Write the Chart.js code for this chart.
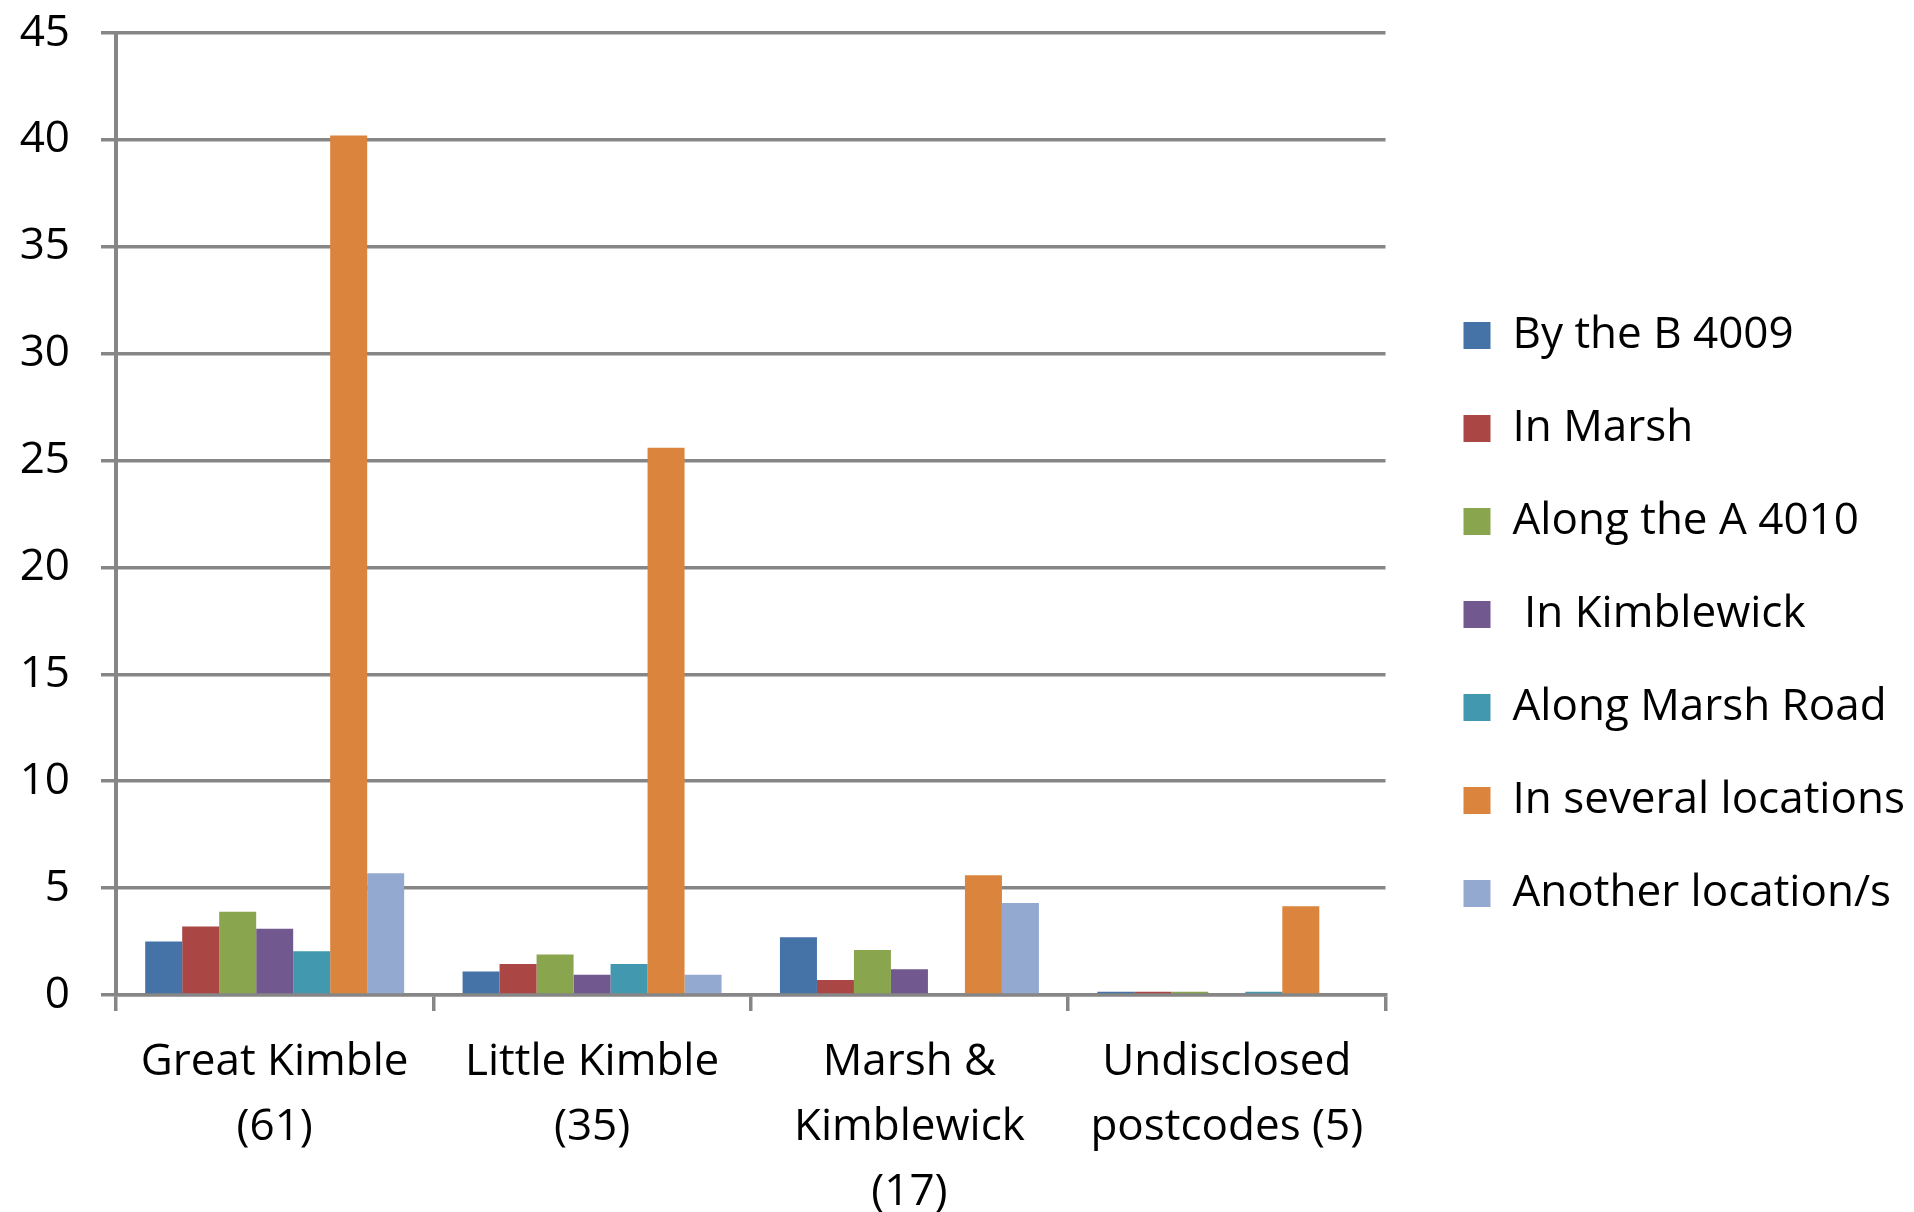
<!DOCTYPE html>
<html>
<head>
<meta charset="utf-8">
<script src="https://cdn.jsdelivr.net/npm/chart.js@4/dist/chart.umd.min.js"></script>
<style>
  html, body { margin: 0; padding: 0; background: #fff; }
  #wrap { width: 1914px; height: 1212px; }
</style>
</head>
<body>
<div id="wrap"><canvas id="chart"></canvas></div>
<script>
// areas, with number of replies in brackets
const categories = [
  ['Great Kimble', '(61)'],
  ['Little Kimble', '(35)'],
  ['Marsh &', 'Kimblewick', '(17)'],
  ['Undisclosed', 'postcodes (5)']
];

const seriesNames = [
  'By the B 4009',
  'In Marsh',
  'Along the A 4010',
  ' In Kimblewick',
  'Along Marsh Road',
  'In several locations',
  'Another location/s'
];

const byB4009      = [2.5, 1.1, 2.7, 0.15];
const inMarsh      = [3.2, 1.45, 0.7, 0.15];
const alongA4010   = [3.9, 1.9, 2.1, 0.15];
const inKimblewick = [3.1, 0.95, 1.2, 0];
const alongMarshRd = [2.05, 1.45, 0, 0.15];
const several      = [40.2, 25.6, 5.6, 4.15];
const another      = [5.7, 0.95, 4.3, 0];

const yTicks = [0, 5, 10, 15, 20, 25, 30, 35, 40, 45];

const colors = ['#4572A7', '#AA4643', '#89A54E', '#71588F', '#4198AF', '#DB843D', '#93A9CF'];
const seriesValues = [byB4009, inMarsh, alongA4010, inKimblewick, alongMarshRd, several, another];

const gridGrey = '#868686';
const EXTRA = 50;   // room between plot and legend
const SHIFT = 29;   // how far the legend itself moves right
const LIFT = 16;    // raise the legend a bit

const legendGap = {
  id: 'legendGap',
  beforeLayout(chart) {
    const lg = chart.legend;
    if (lg && !lg._gapPatched) {
      const fit = lg.fit;
      lg.fit = function () { fit.call(this); this.width += EXTRA; };
      lg._gapPatched = true;
    }
  },
  afterLayout(chart) {
    if (chart.legend) {
      chart.legend.left += SHIFT;
      chart.legend.bottom -= LIFT;
    }
  }
};

Chart.defaults.font.family = '"Open Sans", Lato, sans-serif';
Chart.defaults.color = '#000';

new Chart(document.getElementById('chart'), {
  type: 'bar',
  data: {
    labels: categories,
    datasets: seriesNames.map((name, i) => ({
      label: name,
      data: seriesValues[i],
      backgroundColor: colors[i],
      borderColor: colors[i],
      borderWidth: 0,
      categoryPercentage: 0.816,
      barPercentage: 1.0
    }))
  },
  options: {
    responsive: true,
    maintainAspectRatio: false,
    animation: false,
    layout: { padding: { top: 33, left: 0, right: 0, bottom: 0 } },
    plugins: {
      legend: {
        position: 'right',
        align: 'center',
        labels: {
          boxWidth: 27,
          boxHeight: 27,
          padding: 49,
          font: { size: 44 },
          color: '#000'
        }
      },
      tooltip: { enabled: false }
    },
    scales: {
      x: {
        afterFit(scale) { scale.height = 217; },
        grid: {
          display: true,
          drawOnChartArea: false,
          drawTicks: true,
          tickLength: 16,
          color: gridGrey,
          lineWidth: 3.5,
          offset: true
        },
        border: { color: gridGrey, width: 3.5 },
        ticks: {
          font: { size: 44, lineHeight: 1.477 },
          color: '#000',
          padding: 19,
          maxRotation: 0,
          autoSkip: false
        }
      },
      y: {
        min: 0,
        max: 45,
        afterBuildTicks(scale) { scale.ticks = yTicks.map(v => ({ value: v })); },
        afterFit(scale) {
          scale.width = 116;
          scale.paddingTop = 0;
          scale.paddingBottom = 0;
        },
        grid: {
          color: gridGrey,
          lineWidth: 3.5,
          tickLength: 15
        },
        border: { color: gridGrey, width: 4 },
        ticks: {
          font: { size: 44 },
          color: '#000',
          padding: 31
        }
      }
    }
  },
  plugins: [legendGap]
});
</script>
</body>
</html>
